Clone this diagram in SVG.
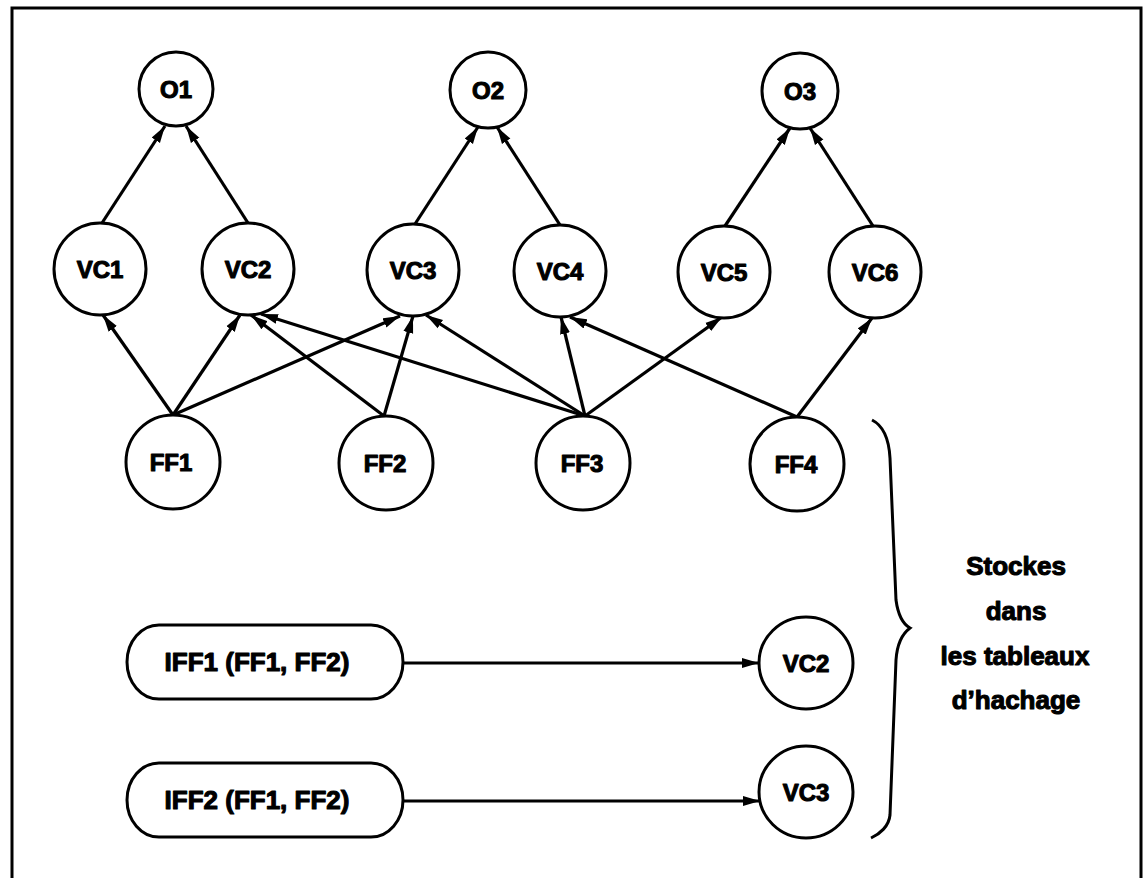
<svg xmlns="http://www.w3.org/2000/svg" width="1146" height="878" viewBox="0 0 1146 878">
<style>
.n{fill:#fff;stroke:#000;stroke-width:3}
.t{font-family:"Liberation Sans",Arial,sans-serif;font-weight:bold;font-size:24px;text-anchor:middle;fill:#000;stroke:#000;stroke-width:1.1;stroke-linejoin:round}
.big{font-size:26px}
.e{stroke:#000;stroke-width:3.2;fill:none;marker-end:url(#ah)}
</style>
<defs>
<marker id="ah" markerUnits="userSpaceOnUse" markerWidth="18" markerHeight="11" refX="17" refY="5.5" orient="auto">
<path d="M0,0.5 L17,5.5 L0,10.5 z" fill="#000"/>
</marker>
</defs>
<rect x="12" y="8" width="1129" height="900" fill="#fff" stroke="#000" stroke-width="3"/>
<g id="connectors">
<line class="e" x1="102" y1="223" x2="165" y2="126"/>
<line class="e" x1="248" y1="223" x2="186" y2="126"/>
<line class="e" x1="415" y1="224" x2="478" y2="127"/>
<line class="e" x1="560" y1="225" x2="497" y2="127"/>
<line class="e" x1="725" y1="226" x2="790" y2="128"/>
<line class="e" x1="873" y1="226" x2="810" y2="128"/>
<line class="e" x1="173" y1="415" x2="103" y2="315"/>
<line class="e" x1="173" y1="415" x2="240" y2="315"/>
<line class="e" x1="173" y1="415" x2="400" y2="316"/>
<line class="e" x1="384" y1="416" x2="251" y2="315"/>
<line class="e" x1="384" y1="416" x2="413" y2="316"/>
<line class="e" x1="585" y1="416" x2="261" y2="314"/>
<line class="e" x1="585" y1="416" x2="426" y2="315"/>
<line class="e" x1="585" y1="416" x2="561" y2="317"/>
<line class="e" x1="585" y1="416" x2="722" y2="317"/>
<line class="e" x1="797" y1="417" x2="570" y2="317"/>
<line class="e" x1="797" y1="417" x2="872" y2="318"/>
<line class="e" x1="403" y1="663" x2="759" y2="663"/>
<line class="e" x1="403" y1="801" x2="760" y2="801"/>
</g>
<g id="O1"><circle class="n" cx="176" cy="89" r="37"/><text class="t" x="176" y="98">O1</text></g>
<g id="O2"><circle class="n" cx="488" cy="90" r="38"/><text class="t" x="488" y="99">O2</text></g>
<g id="O3"><circle class="n" cx="800" cy="91" r="38"/><text class="t" x="800" y="100">O3</text></g>
<g id="VC1"><circle class="n" cx="100" cy="269" r="46"/><text class="t" x="100" y="278">VC1</text></g>
<g id="VC2"><circle class="n" cx="248" cy="269" r="46"/><text class="t" x="248" y="278">VC2</text></g>
<g id="VC3"><circle class="n" cx="413" cy="270" r="46"/><text class="t" x="413" y="279">VC3</text></g>
<g id="VC4"><circle class="n" cx="560" cy="271" r="46"/><text class="t" x="560" y="280">VC4</text></g>
<g id="VC5"><circle class="n" cx="724" cy="272" r="46"/><text class="t" x="724" y="281">VC5</text></g>
<g id="VC6"><circle class="n" cx="875" cy="272" r="46"/><text class="t" x="875" y="281">VC6</text></g>
<g id="FF1"><circle class="n" cx="173" cy="462" r="47"/><text class="t" x="171" y="471">FF1</text></g>
<g id="FF2"><circle class="n" cx="386" cy="463" r="47"/><text class="t" x="385" y="472">FF2</text></g>
<g id="FF3"><circle class="n" cx="583" cy="463" r="47"/><text class="t" x="582" y="472">FF3</text></g>
<g id="FF4"><circle class="n" cx="797" cy="464" r="47"/><text class="t" x="796" y="473">FF4</text></g>
<g id="IFF1"><rect class="n" x="127" y="625" width="276" height="74" rx="32" ry="37"/><text class="t big" x="257" y="671">IFF1 (FF1, FF2)</text></g>
<g id="IFF2"><rect class="n" x="127" y="763" width="276" height="74" rx="32" ry="37"/><text class="t big" x="257" y="809">IFF2 (FF1, FF2)</text></g>
<g id="VC2b"><ellipse class="n" cx="806" cy="663" rx="47" ry="46"/><text class="t" x="806" y="672">VC2</text></g>
<g id="VC3b"><ellipse class="n" cx="806" cy="792" rx="47" ry="46"/><text class="t" x="806" y="801">VC3</text></g>
<g id="brace">
<path d="M872,420 C884,426 889,440 890,458 L896,600 C898,615 903,624 910,628 C902,634 897,645 896,660 L890,815 C889,826 880,834 871,838" fill="none" stroke="#000" stroke-width="3"/>
<text class="t big" x="1016" y="575">Stockes</text>
<text class="t big" x="1016" y="620">dans</text>
<text class="t big" x="1015" y="665">les tableaux</text>
<text class="t big" x="1016" y="709">d’hachage</text>
</g>
</svg>
